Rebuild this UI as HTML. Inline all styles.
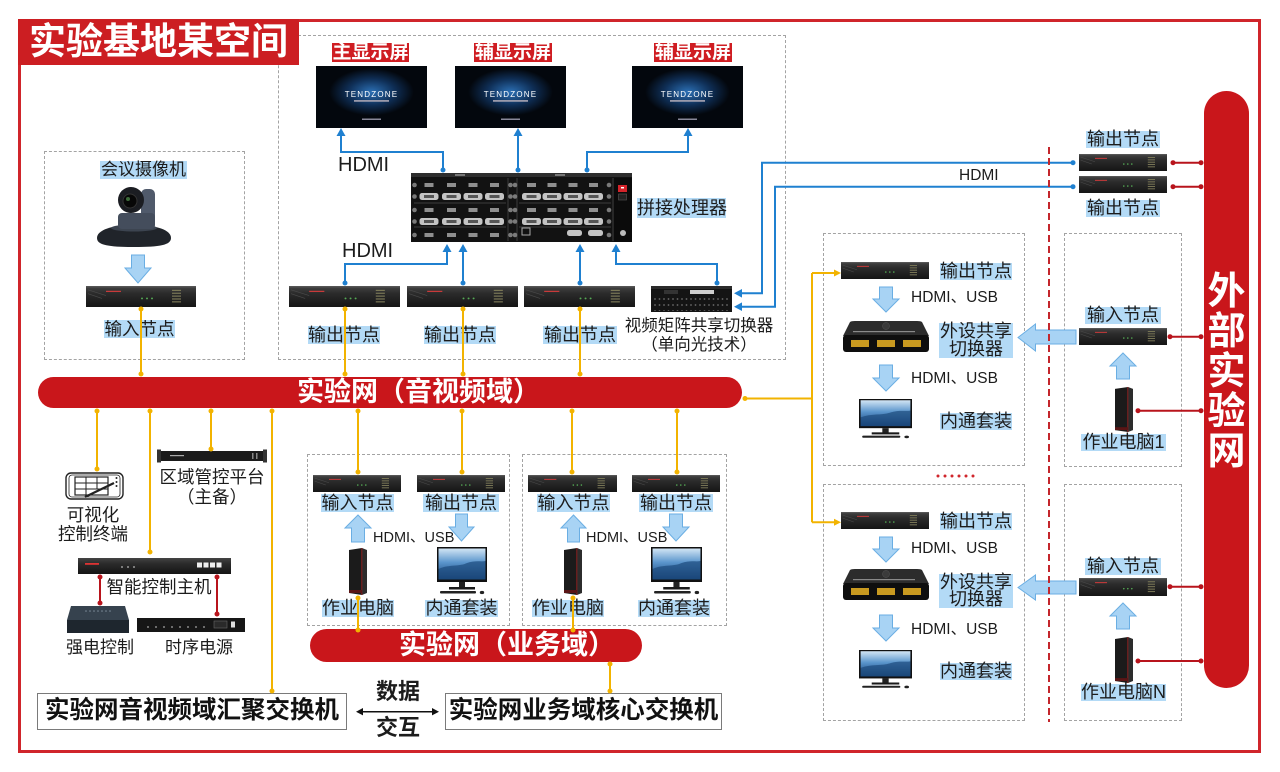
<!DOCTYPE html>
<html><head><meta charset="utf-8">
<style>
*{margin:0;padding:0;box-sizing:border-box}
html,body{width:1280px;height:772px;overflow:hidden;background:#fff}
body{position:relative;font-family:"Liberation Sans","Noto Sans CJK SC",sans-serif;color:#1a1a1a}
.ab{position:absolute}
.lb{position:absolute;background:#b3daf6;text-align:center;white-space:nowrap;font-family:"Liberation Sans","Noto Sans CJK SC",sans-serif;font-size:18px;color:#1c1c1c}
.tx{position:absolute;white-space:nowrap;text-align:center;font-family:"Liberation Sans","Noto Sans CJK SC",sans-serif;color:#1c1c1c}
.en{position:absolute;white-space:nowrap;font-family:"Liberation Sans","Noto Sans CJK SC",sans-serif;color:#1c1c1c;line-height:1}
.dsh{position:absolute;border:1px dashed #a3a3a3}
.pill{position:absolute;background:#c9161b;color:#fff;font-family:"Liberation Sans","Noto Sans CJK SC",sans-serif;font-weight:bold;white-space:nowrap}
.rt{position:absolute;background:#cf1d22;color:#fff;font-weight:bold;font-family:"Liberation Sans","Noto Sans CJK SC",sans-serif;text-align:center;font-size:19px;line-height:19px;height:19px}
.sw{position:absolute;border:1.5px solid #7a7a7a;background:#fff;font-weight:bold;font-size:24.5px;line-height:34px;text-align:center;white-space:nowrap;font-family:"Liberation Sans","Noto Sans CJK SC",sans-serif;color:#111}
svg{position:absolute;left:0;top:0}
</style></head><body>

<!-- outer frame -->
<div class="ab" style="left:18px;top:19px;width:1243px;height:734px;border:3px solid #d0252b"></div>

<!-- dashed boxes -->
<div class="dsh" style="left:278px;top:35px;width:508px;height:325px"></div>
<div class="dsh" style="left:44px;top:151px;width:201px;height:209px"></div>
<div class="dsh" style="left:307px;top:454px;width:203px;height:172px"></div>
<div class="dsh" style="left:522px;top:454px;width:205px;height:172px"></div>
<div class="dsh" style="left:823px;top:233px;width:202px;height:233px"></div>
<div class="dsh" style="left:823px;top:484px;width:202px;height:237px"></div>
<div class="dsh" style="left:1064px;top:233px;width:118px;height:234px"></div>
<div class="dsh" style="left:1064px;top:484px;width:118px;height:237px"></div>

<div class="ab" style="left:18px;top:19px;width:281px;height:46px;background:#cc1e22;color:#fff;font-weight:bold;font-size:37px;line-height:46px;padding-left:11px;white-space:nowrap;font-family:'Liberation Sans','Noto Sans CJK SC',sans-serif">实验基地某空间</div>

<!-- buses -->
<div class="pill" style="left:38px;top:377px;width:704px;height:31px;border-radius:16px;font-size:27px;line-height:31px;padding-left:259px">实验网（音视频域）</div>
<div class="pill" style="left:310px;top:629px;width:332px;height:33px;border-radius:17px;font-size:27px;line-height:33px;padding-left:89px">实验网（业务域）</div>
<div class="pill" style="left:1204px;top:91px;width:45px;height:597px;border-radius:23px;font-size:38px;line-height:40px;text-align:center;padding-top:181px">外<br>部<br>实<br>验<br>网</div>

<!-- main graphics -->
<svg width="1280" height="772" viewBox="0 0 1280 772">
<defs>
 <linearGradient id="gnd" x1="0" y1="0" x2="0" y2="1"><stop offset="0" stop-color="#444"/><stop offset=".35" stop-color="#2b2b2b"/><stop offset="1" stop-color="#151515"/></linearGradient>
 <radialGradient id="glow" cx=".5" cy=".42" r=".38"><stop offset="0" stop-color="#2c70b5"/><stop offset=".55" stop-color="#0f2f57"/><stop offset="1" stop-color="#03070d"/></radialGradient>
 <linearGradient id="sky" x1="0" y1="0" x2="0" y2="1"><stop offset="0" stop-color="#d2e5f4"/><stop offset=".45" stop-color="#5a95cc"/><stop offset="1" stop-color="#123d73"/></linearGradient>
 <pattern id="mx" x="653" y="297" width="4.5" height="6" patternUnits="userSpaceOnUse"><circle cx="2" cy="2" r="0.9" fill="#6a6a6a"/></pattern>
 <symbol id="nd" viewBox="0 0 110 22" preserveAspectRatio="none">
  <rect width="110" height="22" fill="url(#gnd)"/>
  <rect width="110" height="1.5" fill="#555"/>
  <path d="M2,4 L20,10 M2,8 L16,13" stroke="#4a4a4a" stroke-width=".7"/>
  <rect x="20" y="5" width="15" height="1.3" fill="#c83a3a"/>
  <circle cx="56" cy="13" r="1" fill="#5a5"/><circle cx="61" cy="13" r="1" fill="#5a5"/><circle cx="66" cy="13" r="1" fill="#5a5"/>
  <g fill="#7d7a58"><rect x="86" y="4" width="9" height="1.2"/><rect x="86" y="7" width="9" height="1.2"/><rect x="86" y="10" width="9" height="1.2"/><rect x="86" y="13" width="9" height="1.2"/><rect x="86" y="16" width="9" height="1.2"/></g>
 </symbol>
 <symbol id="mon" viewBox="0 0 50 48" preserveAspectRatio="none">
  <rect x="0" y="0" width="50" height="35" fill="#111"/>
  <rect x="1.5" y="1.5" width="47" height="31" fill="url(#sky)"/>
  <path d="M1.5,22 C12,17 22,20 30,16 C38,13 44,15 48.5,14 L48.5,32.5 L1.5,32.5Z" fill="#1c4a7c" opacity=".7"/>
  <rect x="22" y="35" width="6" height="6" fill="#222"/>
  <rect x="12" y="40" width="26" height="2.5" fill="#1a1a1a"/>
  <rect x="3" y="44" width="36" height="2.5" rx="1" fill="#222"/>
  <ellipse cx="45" cy="45.5" rx="2.2" ry="1.6" fill="#222"/>
 </symbol>
 <symbol id="pc" viewBox="0 0 20 47" preserveAspectRatio="none">
  <path d="M1,2 L14,0 L14,47 L1,45Z" fill="#1b1b1b"/>
  <path d="M14,0 L19,2 L19,45 L14,47Z" fill="#2c2c2c"/>
  <rect x="13.3" y="0" width="1" height="47" fill="#8a1f1f"/>
  <rect x="1" y="42" width="13" height="3" fill="#5a1515"/>
 </symbol>
 <symbol id="kvm" viewBox="0 0 86 32" preserveAspectRatio="none">
  <path d="M7,1 Q8,0 12,0 L74,0 Q78,0 79,1 L86,15 L0,15Z" fill="#2c2c2c"/>
  <circle cx="43" cy="5" r="3.5" fill="#3a3a3a" stroke="#555" stroke-width=".5"/>
  <rect x="10" y="10" width="62" height="1.2" fill="#8a8a8a"/>
  <rect x="0" y="14" width="86" height="17" rx="3" fill="#0e0e0e"/>
  <rect x="8" y="19" width="18" height="7" fill="#c99a20"/><rect x="34" y="19" width="18" height="7" fill="#c99a20"/><rect x="60" y="19" width="18" height="7" fill="#c99a20"/>
 </symbol>
</defs>

<!-- screens -->
<g>
 <rect x="316" y="66" width="111" height="62" fill="url(#glow)"/>
 <text x="371.5" y="97" font-size="8" fill="#fff" text-anchor="middle" letter-spacing="1.2" font-family="Liberation Sans">TENDZONE</text>
 <rect x="354" y="100" width="35" height="1.8" fill="#99a"/><rect x="362" y="118.5" width="19" height="1.5" fill="#889"/>
 <rect x="455" y="66" width="111" height="62" fill="url(#glow)"/>
 <text x="510.5" y="97" font-size="8" fill="#fff" text-anchor="middle" letter-spacing="1.2" font-family="Liberation Sans">TENDZONE</text>
 <rect x="493" y="100" width="35" height="1.8" fill="#99a"/><rect x="501" y="118.5" width="19" height="1.5" fill="#889"/>
 <rect x="632" y="66" width="111" height="62" fill="url(#glow)"/>
 <text x="687.5" y="97" font-size="8" fill="#fff" text-anchor="middle" letter-spacing="1.2" font-family="Liberation Sans">TENDZONE</text>
 <rect x="670" y="100" width="35" height="1.8" fill="#99a"/><rect x="678" y="118.5" width="19" height="1.5" fill="#889"/>
</g>

<!-- splice processor -->
<g>
 <rect x="411" y="173" width="221" height="69" fill="#121212"/>
 <rect x="411" y="173" width="221" height="4" fill="#2e2e2e"/>
 <rect x="455" y="174" width="10" height="2" fill="#777"/><rect x="555" y="174" width="10" height="2" fill="#777"/>
 <g stroke="#3c3c3c" stroke-width="1"><line x1="508" y1="178" x2="508" y2="241"/><line x1="517" y1="178" x2="517" y2="241"/><line x1="613" y1="178" x2="613" y2="241"/><line x1="414" y1="203" x2="506" y2="203"/><line x1="519" y1="203" x2="611" y2="203"/><line x1="414" y1="227" x2="506" y2="227"/><line x1="519" y1="227" x2="611" y2="227"/></g>
 <g fill="#8f8f8f">
  <rect x="424.5" y="183" width="9" height="4"/><rect x="447" y="183" width="9" height="4"/><rect x="468.5" y="183" width="9" height="4"/><rect x="490" y="183" width="9" height="4"/>
  <rect x="527" y="183" width="9" height="4"/><rect x="547.5" y="183" width="9" height="4"/><rect x="568.5" y="183" width="9" height="4"/><rect x="589" y="183" width="9" height="4"/>
  <rect x="424.5" y="208" width="9" height="4"/><rect x="447" y="208" width="9" height="4"/><rect x="468.5" y="208" width="9" height="4"/><rect x="490" y="208" width="9" height="4"/>
  <rect x="527" y="208" width="9" height="4"/><rect x="547.5" y="208" width="9" height="4"/><rect x="568.5" y="208" width="9" height="4"/><rect x="589" y="208" width="9" height="4"/>
  <rect x="424.5" y="233" width="9" height="4"/><rect x="447" y="233" width="9" height="4"/><rect x="468.5" y="233" width="9" height="4"/><rect x="490" y="233" width="9" height="4"/>
 </g>
 <g fill="#c4c4c4">
  <rect x="419.5" y="193" width="19" height="7" rx="2.5"/><rect x="442" y="193" width="19" height="7" rx="2.5"/><rect x="463.5" y="193" width="19" height="7" rx="2.5"/><rect x="485" y="193" width="19" height="7" rx="2.5"/>
  <rect x="522" y="193" width="19" height="7" rx="2.5"/><rect x="542.5" y="193" width="19" height="7" rx="2.5"/><rect x="563.5" y="193" width="19" height="7" rx="2.5"/><rect x="584" y="193" width="19" height="7" rx="2.5"/>
  <rect x="419.5" y="218" width="19" height="7" rx="2.5"/><rect x="442" y="218" width="19" height="7" rx="2.5"/><rect x="463.5" y="218" width="19" height="7" rx="2.5"/><rect x="485" y="218" width="19" height="7" rx="2.5"/>
  <rect x="522" y="218" width="19" height="7" rx="2.5"/><rect x="542.5" y="218" width="19" height="7" rx="2.5"/><rect x="563.5" y="218" width="19" height="7" rx="2.5"/><rect x="584" y="218" width="19" height="7" rx="2.5"/>
  <rect x="567" y="230" width="15" height="6" rx="2.5"/><rect x="588" y="230" width="15" height="6" rx="2.5"/>
 </g>
 <g fill="#555"><rect x="424" y="195" width="10" height="3"/><rect x="446.5" y="195" width="10" height="3"/><rect x="468" y="195" width="10" height="3"/><rect x="489.5" y="195" width="10" height="3"/><rect x="526.5" y="195" width="10" height="3"/><rect x="547" y="195" width="10" height="3"/><rect x="568" y="195" width="10" height="3"/><rect x="588.5" y="195" width="10" height="3"/><rect x="424" y="220" width="10" height="3"/><rect x="446.5" y="220" width="10" height="3"/><rect x="468" y="220" width="10" height="3"/><rect x="489.5" y="220" width="10" height="3"/><rect x="526.5" y="220" width="10" height="3"/><rect x="547" y="220" width="10" height="3"/><rect x="568" y="220" width="10" height="3"/><rect x="588.5" y="220" width="10" height="3"/></g>
 <rect x="522" y="228" width="8" height="7" fill="none" stroke="#aaa" stroke-width="1"/>
 <g fill="#7a7a7a">
  <circle cx="414.5" cy="185" r="2.3"/><circle cx="414.5" cy="196.5" r="2.3"/><circle cx="414.5" cy="210" r="2.3"/><circle cx="414.5" cy="221.5" r="2.3"/><circle cx="414.5" cy="235" r="2.3"/>
  <circle cx="510.5" cy="185" r="2.3"/><circle cx="510.5" cy="196.5" r="2.3"/><circle cx="510.5" cy="210" r="2.3"/><circle cx="510.5" cy="221.5" r="2.3"/><circle cx="510.5" cy="235" r="2.3"/>
  <circle cx="515" cy="185" r="2.3"/><circle cx="515" cy="196.5" r="2.3"/><circle cx="515" cy="210" r="2.3"/><circle cx="515" cy="221.5" r="2.3"/><circle cx="515" cy="235" r="2.3"/>
  <circle cx="609" cy="185" r="2.3"/><circle cx="609" cy="196.5" r="2.3"/><circle cx="609" cy="210" r="2.3"/><circle cx="609" cy="221.5" r="2.3"/><circle cx="609" cy="235" r="2.3"/>
 </g>
 <rect x="614" y="178" width="18" height="64" fill="#0b0b0b"/>
 <rect x="618" y="185" width="9" height="7" fill="#d3232a"/><rect x="621" y="187" width="3" height="1.5" fill="#fff"/>
 <rect x="618.5" y="194" width="8" height="6" fill="#222" stroke="#555" stroke-width=".6"/>
 <circle cx="623" cy="233" r="3" fill="#bbb"/>
</g>

<!-- matrix switcher -->
<rect x="651" y="286" width="81" height="26" fill="#141414"/>
<rect x="651" y="286" width="81" height="3" fill="#2b2b2b"/>
<rect x="690" y="290" width="24" height="4" fill="#cfcfcf"/>
<rect x="664" y="290" width="14" height="4" fill="#333"/>
<rect x="653" y="297" width="77" height="14" fill="url(#mx)"/>

<!-- nodes -->
<use href="#nd" x="86" y="286" width="110" height="21"/>
<use href="#nd" x="289" y="286" width="111" height="21"/>
<use href="#nd" x="407" y="286" width="111" height="21"/>
<use href="#nd" x="524" y="286" width="111" height="21"/>
<use href="#nd" x="1079" y="154" width="88" height="17"/>
<use href="#nd" x="1079" y="176" width="88" height="17"/>
<use href="#nd" x="841" y="262" width="88" height="17"/>
<use href="#nd" x="841" y="512" width="88" height="17"/>
<use href="#nd" x="1079" y="328" width="88" height="17"/>
<use href="#nd" x="1079" y="578" width="88" height="18"/>
<use href="#nd" x="313" y="475" width="88" height="17"/>
<use href="#nd" x="417" y="475" width="88" height="17"/>
<use href="#nd" x="528" y="475" width="89" height="17"/>
<use href="#nd" x="632" y="475" width="88" height="17"/>

<!-- monitors / pcs / kvm -->
<use href="#mon" x="859" y="399" width="53" height="40"/>
<use href="#mon" x="859" y="650" width="53" height="39"/>
<use href="#mon" x="437" y="547" width="50" height="48"/>
<use href="#mon" x="651" y="547" width="51" height="48"/>
<use href="#pc" x="348" y="548" width="20" height="47"/>
<use href="#pc" x="563" y="548" width="20" height="47"/>
<use href="#pc" x="1114" y="387" width="20" height="45"/>
<use href="#pc" x="1114" y="637" width="20" height="46"/>
<use href="#kvm" x="843" y="321" width="86" height="32"/>
<use href="#kvm" x="843" y="569" width="86" height="32"/>

<!-- camera -->
<g>
 <path d="M97,238 C97,230 112,225 134,225 C157,225 171,230 171,238 C171,245 160,247 134,247 C108,247 97,245 97,238Z" fill="#20242a"/>
 <ellipse cx="134" cy="228" rx="23" ry="3.5" fill="#3c4450"/>
 <rect x="141" y="189" width="14" height="40" rx="5" fill="#505a6b"/>
 <rect x="118" y="213" width="37" height="16" rx="4" fill="#444d5c"/>
 <circle cx="131" cy="200" r="13" fill="#1b1d22"/>
 <circle cx="130" cy="201" r="7" fill="#070707" stroke="#333"/>
 <circle cx="128" cy="199" r="2" fill="#3d6b3a"/>
</g>

<!-- tablet icon -->
<g fill="none" stroke="#222">
 <rect x="66" y="473" width="57" height="26" rx="5" fill="#fff" stroke-width="1.4"/>
 <rect x="69" y="475" width="51" height="22" rx="3" stroke-width=".8"/>
 <rect x="75" y="477" width="33" height="18" stroke-width="1.2"/>
 <path d="M75,483 H108 M75,489 H108 M86,477 V495 M97,477 V489" stroke-width="1"/>
 <path d="M85,497 L114,483" stroke-width="2.2"/>
</g>
<g fill="#222"><circle cx="116.5" cy="478" r="1"/><circle cx="116.5" cy="482" r="1"/><circle cx="116.5" cy="486" r="1"/></g>

<!-- zone platform rack -->
<rect x="157" y="451" width="110" height="10" fill="#1b1b1b"/>
<rect x="157" y="449.5" width="4" height="13" fill="#333"/><rect x="263" y="449.5" width="4" height="13" fill="#333"/>
<rect x="170" y="455" width="14" height="1.2" fill="#aaa"/>
<rect x="252" y="453" width="1.5" height="6" fill="#888"/><rect x="256" y="453" width="1.5" height="6" fill="#888"/>

<!-- smart control host -->
<rect x="78" y="558" width="153" height="16" fill="url(#gnd)"/>
<rect x="85" y="563" width="14" height="1.8" fill="#d33"/>
<g fill="#999"><circle cx="122" cy="567" r="1"/><circle cx="128" cy="567" r="1"/><circle cx="134" cy="567" r="1"/></g>
<g fill="#eee"><rect x="197" y="562.5" width="5" height="5"/><rect x="203.5" y="562.5" width="5" height="5"/><rect x="210" y="562.5" width="5" height="5"/><rect x="216.5" y="562.5" width="5" height="5"/></g>

<!-- strong current control -->
<path d="M71,606 L125,606 L129,620 L67,620Z" fill="#36424e"/>
<rect x="67" y="620" width="62" height="13" fill="#1e262e"/>
<g fill="#7b8a98"><circle cx="86" cy="611" r=".8"/><circle cx="90" cy="611" r=".8"/><circle cx="94" cy="611" r=".8"/><circle cx="98" cy="611" r=".8"/><circle cx="102" cy="611" r=".8"/><circle cx="106" cy="611" r=".8"/><circle cx="110" cy="611" r=".8"/></g>

<!-- sequencer -->
<rect x="137" y="618" width="108" height="14" fill="#161616"/>
<g fill="#aaa"><circle cx="148" cy="627" r=".9"/><circle cx="156" cy="627" r=".9"/><circle cx="164" cy="627" r=".9"/><circle cx="172" cy="627" r=".9"/><circle cx="180" cy="627" r=".9"/><circle cx="188" cy="627" r=".9"/><circle cx="196" cy="627" r=".9"/><circle cx="204" cy="627" r=".9"/></g>
<rect x="214" y="621" width="13" height="7" fill="#2a2a2a" stroke="#666" stroke-width=".6"/>
<rect x="231" y="621.5" width="4" height="6" fill="#ddd"/>

<!-- block arrows -->
<g fill="#a8d3f4" stroke="#6aaee3" stroke-width="1">
 <polygon points="131.5,255 144.5,255 144.5,268 151,268 138,283 125,268 131.5,268"/>
 <polygon points="358,515 371,528 364.5,528 364.5,542 351.5,542 351.5,528 345,528"/>
 <polygon points="455.5,514 467.5,514 467.5,527 474,527 461.5,541 449,527 455.5,527"/>
 <polygon points="573.5,515 586,528 579.5,528 579.5,542 567.5,542 567.5,528 561,528"/>
 <polygon points="669.5,514 682.5,514 682.5,527 689,527 676,541 663,527 669.5,527"/>
 <polygon points="879.5,287 892.5,287 892.5,299 899,299 886,312 873,299 879.5,299"/>
 <polygon points="879.5,365 892.5,365 892.5,378 899,378 886,391 873,378 879.5,378"/>
 <polygon points="879.5,537 892.5,537 892.5,549 899,549 886,562 873,549 879.5,549"/>
 <polygon points="879.5,615 892.5,615 892.5,628 899,628 886,641 873,628 879.5,628"/>
 <polygon points="1123,353 1136,366 1129.5,366 1129.5,379 1116.5,379 1116.5,366 1110,366"/>
 <polygon points="1123,603 1136,616 1129.5,616 1129.5,629 1116.5,629 1116.5,616 1110,616"/>
 <polygon points="1018,337.5 1035.5,324 1035.5,330 1076,330 1076,344 1035.5,344 1035.5,351"/>
 <polygon points="1018,587.5 1035.5,575 1035.5,581 1076,581 1076,594 1035.5,594 1035.5,600"/>
</g>
</svg>

<!-- red title labels -->
<div class="rt" style="left:332px;top:43px;width:77px">主显示屏</div>
<div class="rt" style="left:474px;top:43px;width:78px">辅显示屏</div>
<div class="rt" style="left:654px;top:43px;width:78px">辅显示屏</div>

<!-- blue labels -->
<div class="lb" style="left:100px;top:161px;width:87px;height:18px;font-size:17px;line-height:18px">会议摄像机</div>
<div class="lb" style="left:104px;top:320px;width:71px;height:18px;font-size:17.5px;line-height:18px">输入节点</div>
<div class="lb" style="left:308px;top:326px;width:72px;height:18px;line-height:18px">输出节点</div>
<div class="lb" style="left:424px;top:326px;width:72px;height:18px;line-height:18px">输出节点</div>
<div class="lb" style="left:543px;top:326px;width:74px;height:18px;line-height:18px">输出节点</div>
<div class="lb" style="left:637px;top:198px;width:89px;height:20px;line-height:20px">拼接处理器</div>

<div class="lb" style="left:1086px;top:131px;width:74px;height:17px;line-height:17px">输出节点</div>
<div class="lb" style="left:1086px;top:200px;width:74px;height:17px;line-height:17px">输出节点</div>

<div class="lb" style="left:940px;top:263px;width:72px;height:17px;line-height:17px">输出节点</div>
<div class="lb" style="left:939px;top:323px;width:74px;height:35px;line-height:17.5px">外设共享<br>切换器</div>
<div class="lb" style="left:940px;top:413px;width:72px;height:17px;line-height:17px">内通套装</div>
<div class="lb" style="left:940px;top:513px;width:72px;height:17px;line-height:17px">输出节点</div>
<div class="lb" style="left:939px;top:574px;width:74px;height:34px;line-height:17px">外设共享<br>切换器</div>
<div class="lb" style="left:940px;top:663px;width:72px;height:17px;line-height:17px">内通套装</div>

<div class="lb" style="left:1085px;top:307px;width:76px;height:17px;line-height:17px">输入节点</div>
<div class="lb" style="left:1081px;top:434px;width:85px;height:17px;line-height:17px">作业电脑1</div>
<div class="lb" style="left:1085px;top:558px;width:76px;height:17px;line-height:17px">输入节点</div>
<div class="lb" style="left:1081px;top:684px;width:85px;height:17px;line-height:17px">作业电脑N</div>

<div class="lb" style="left:321px;top:494px;width:73px;height:18px;line-height:18px">输入节点</div>
<div class="lb" style="left:423px;top:494px;width:76px;height:18px;line-height:18px">输出节点</div>
<div class="lb" style="left:537px;top:494px;width:73px;height:18px;line-height:18px">输入节点</div>
<div class="lb" style="left:639px;top:494px;width:74px;height:18px;line-height:18px">输出节点</div>
<div class="lb" style="left:322px;top:600px;width:72px;height:17px;line-height:17px">作业电脑</div>
<div class="lb" style="left:425px;top:600px;width:73px;height:17px;line-height:17px">内通套装</div>
<div class="lb" style="left:532px;top:600px;width:72px;height:17px;line-height:17px">作业电脑</div>
<div class="lb" style="left:638px;top:600px;width:72px;height:17px;line-height:17px">内通套装</div>

<!-- plain texts -->
<div class="en" style="left:338px;top:154.5px;font-size:20px">HDMI</div>
<div class="en" style="left:342px;top:240.5px;font-size:20px">HDMI</div>
<div class="en" style="left:959px;top:168px;font-size:15.5px">HDMI</div>
<div class="en" style="left:911px;top:290px;font-size:15.5px">HDMI、USB</div>
<div class="en" style="left:911px;top:371px;font-size:15.5px">HDMI、USB</div>
<div class="en" style="left:911px;top:541px;font-size:15.5px">HDMI、USB</div>
<div class="en" style="left:911px;top:622px;font-size:15.5px">HDMI、USB</div>
<div class="en" style="left:373px;top:531px;font-size:14.5px">HDMI、USB</div>
<div class="en" style="left:586px;top:531px;font-size:14.5px">HDMI、USB</div>

<div class="tx" style="left:618px;top:317px;width:162px;font-size:16.5px;line-height:19px">视频矩阵共享切换器<br>（单向光技术）</div>
<div class="tx" style="left:53px;top:506px;width:80px;font-size:17.5px;line-height:19px">可视化<br>控制终端</div>
<div class="tx" style="left:152px;top:467px;width:120px;font-size:17.5px;line-height:20px">区域管控平台<br>（主备）</div>
<div class="tx" style="left:104px;top:577px;width:110px;font-size:17.5px;line-height:20px">智能控制主机</div>
<div class="tx" style="left:62px;top:638px;width:76px;font-size:17px;line-height:19px">强电控制</div>
<div class="tx" style="left:161px;top:638px;width:76px;font-size:17px;line-height:19px">时序电源</div>

<div class="tx" style="left:370px;top:680px;width:56px;font-size:22px;line-height:24px;font-weight:bold">数据</div>
<div class="tx" style="left:370px;top:716px;width:56px;font-size:22px;line-height:24px;font-weight:bold">交互</div>

<div class="sw" style="left:37px;top:693px;width:310px;height:37px">实验网音视频域汇聚交换机</div>
<div class="sw" style="left:445px;top:693px;width:277px;height:37px">实验网业务域核心交换机</div>

<!-- connectors on top -->
<svg width="1280" height="772" viewBox="0 0 1280 772">
<g fill="none" stroke="#1f80d0" stroke-width="2">
 <path d="M443,170 V152 H341 V134"/>
 <path d="M518,170 V134"/>
 <path d="M587,170 V152 H688 V134"/>
 <path d="M345,283 V264 H447 V250"/>
 <path d="M463,283 V250"/>
 <path d="M580,283 V250"/>
 <path d="M717,283 V264 H616 V250"/>
 <path d="M1073,162.7 H762 V293.3 H741"/>
 <path d="M1073,186.7 H775 V306.7 H741"/>
</g>
<g fill="#1f80d0">
 <polygon points="336.5,136 341,128 345.5,136"/><polygon points="513.5,136 518,128 522.5,136"/><polygon points="683.5,136 688,128 692.5,136"/>
 <polygon points="442.5,252 447,244 451.5,252"/><polygon points="458.5,252 463,244 467.5,252"/><polygon points="575.5,252 580,244 584.5,252"/><polygon points="611.5,252 616,244 620.5,252"/>
 <polygon points="742,289 734,293.3 742,297.6"/><polygon points="742,302.4 734,306.7 742,311"/>
 <circle cx="443" cy="170" r="2.5"/><circle cx="518" cy="170" r="2.5"/><circle cx="587" cy="170" r="2.5"/>
 <circle cx="345" cy="283" r="2.5"/><circle cx="463" cy="283" r="2.5"/><circle cx="580" cy="283" r="2.5"/><circle cx="717" cy="283" r="2.5"/>
 <circle cx="1073" cy="162.7" r="2.5"/><circle cx="1073" cy="186.7" r="2.5"/>
</g>

<g fill="none" stroke="#f2b300" stroke-width="2">
 <path d="M141,309 V374 M345,309 V374 M463,309 V374 M580,309 V374"/>
 <path d="M97,411 V469 M150,411 V552 M211,411 V449 M272,411 V691"/>
 <path d="M358,411 V472 M462,411 V472 M572,411 V472 M677,411 V472"/>
 <path d="M358,598 V630 M573,598 V630 M610,664 V691"/>
 <path d="M745,398.5 H812 M812,273 V522.3 M812,273 H835 M812,522.3 H835"/>
</g>
<g fill="#f2b300">
 <circle cx="141" cy="309" r="2.5"/><circle cx="141" cy="374" r="2.5"/>
 <circle cx="345" cy="309" r="2.5"/><circle cx="345" cy="374" r="2.5"/>
 <circle cx="463" cy="309" r="2.5"/><circle cx="463" cy="374" r="2.5"/>
 <circle cx="580" cy="309" r="2.5"/><circle cx="580" cy="374" r="2.5"/>
 <circle cx="97" cy="411" r="2.5"/><circle cx="97" cy="469" r="2.5"/>
 <circle cx="150" cy="411" r="2.5"/><circle cx="150" cy="552" r="2.5"/>
 <circle cx="211" cy="411" r="2.5"/><circle cx="211" cy="449" r="2.5"/>
 <circle cx="272" cy="411" r="2.5"/><circle cx="272" cy="691" r="2.5"/>
 <circle cx="358" cy="411" r="2.5"/><circle cx="358" cy="472" r="2.5"/>
 <circle cx="462" cy="411" r="2.5"/><circle cx="462" cy="472" r="2.5"/>
 <circle cx="572" cy="411" r="2.5"/><circle cx="572" cy="472" r="2.5"/>
 <circle cx="677" cy="411" r="2.5"/><circle cx="677" cy="472" r="2.5"/>
 <circle cx="358" cy="598" r="2.5"/><circle cx="358" cy="630" r="2.5"/>
 <circle cx="573" cy="598" r="2.5"/><circle cx="573" cy="630" r="2.5"/>
 <circle cx="610" cy="664" r="2.5"/><circle cx="610" cy="691" r="2.5"/>
 <circle cx="745" cy="398.5" r="2.5"/>
 <polygon points="834,269.5 841,273 834,276.5"/><polygon points="834,518.8 841,522.3 834,525.8"/>
</g>

<g fill="none" stroke="#b8141c" stroke-width="2">
 <path d="M1173,162.7 H1201 M1173,186.7 H1201 M1170,336.7 H1201 M1138,410.7 H1201 M1170,586.7 H1201 M1138,661 H1201"/>
 <path d="M100,577 V603 M217,577 V614"/>
</g>
<g fill="#b8141c">
 <circle cx="1173" cy="162.7" r="2.5"/><circle cx="1201" cy="162.7" r="2.5"/>
 <circle cx="1173" cy="186.7" r="2.5"/><circle cx="1201" cy="186.7" r="2.5"/>
 <circle cx="1170" cy="336.7" r="2.5"/><circle cx="1201" cy="336.7" r="2.5"/>
 <circle cx="1138" cy="410.7" r="2.5"/><circle cx="1201" cy="410.7" r="2.5"/>
 <circle cx="1170" cy="586.7" r="2.5"/><circle cx="1201" cy="586.7" r="2.5"/>
 <circle cx="1138" cy="661" r="2.5"/><circle cx="1201" cy="661" r="2.5"/>
 <circle cx="100" cy="577" r="2.5"/><circle cx="100" cy="603" r="2.5"/>
 <circle cx="217" cy="577" r="2.5"/><circle cx="217" cy="614" r="2.5"/>
</g>
<line x1="1049" y1="147" x2="1049" y2="722" stroke="#c4262c" stroke-width="2" stroke-dasharray="7 4"/>
<g fill="#d0262c"><circle cx="938" cy="476" r="1.5"/><circle cx="945" cy="476" r="1.5"/><circle cx="952" cy="476" r="1.5"/><circle cx="959" cy="476" r="1.5"/><circle cx="966" cy="476" r="1.5"/><circle cx="973" cy="476" r="1.5"/></g>

<line x1="361" y1="711.7" x2="434" y2="711.7" stroke="#111" stroke-width="1.5"/>
<polygon points="356,711.7 363,708 363,715.4" fill="#111"/>
<polygon points="439,711.7 432,708 432,715.4" fill="#111"/>
</svg>

</body></html>
